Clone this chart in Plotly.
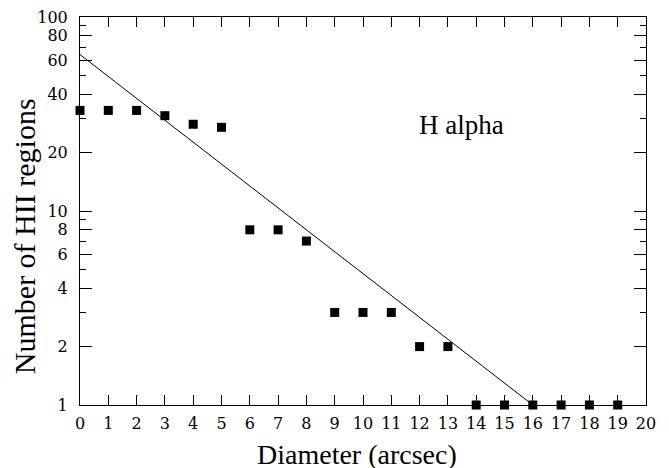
import plotly.graph_objects as go

# Counts of HII regions per diameter bin (H alpha)
diameter = list(range(20))
counts = [33, 33, 33, 31, 28, 27, 8, 8, 7, 3, 3, 3, 2, 2, 1, 1, 1, 1, 1, 1]

# Exponential fit, straight on the log axis
fit_x = [0, 16]
fit_y = [64, 1]

major_y = [1, 2, 4, 6, 8, 10, 20, 40, 60, 80, 100]
minor_y = [3, 5, 7, 9, 30, 50, 70, 90]
x_ticks = list(range(21))

serif = "Liberation Serif, Times New Roman, serif"
tick_font = dict(family="DejaVu Serif", size=16, color="black")

fig = go.Figure()
fig.add_trace(go.Scatter(x=fit_x, y=fit_y, mode="lines",
                         line=dict(color="black", width=1), showlegend=False))
fig.add_trace(go.Scatter(x=diameter, y=counts, mode="markers",
                         marker=dict(symbol="square", size=9, color="black"),
                         showlegend=False, cliponaxis=False))

fig.add_annotation(x=11.9, y=1.443, xref="x", yref="y", text="H alpha",
                   showarrow=False, xanchor="left", yanchor="middle",
                   font=dict(family=serif, size=27, color="black"))

# Axis titles placed as paper-anchored labels
fig.add_annotation(x=0.489, y=-0.128, xref="paper", yref="paper",
                   text="Diameter (arcsec)", showarrow=False,
                   xanchor="center", yanchor="middle",
                   font=dict(family=serif, size=28, color="black"))
fig.add_annotation(x=-0.099, y=0.435, xref="paper", yref="paper",
                   text="Number of HII regions", showarrow=False, textangle=-90,
                   xanchor="center", yanchor="middle",
                   font=dict(family=serif, size=30, color="black"))

fig.update_layout(
    width=669, height=468,
    margin=dict(l=80, r=23, t=17, b=63),
    paper_bgcolor="white", plot_bgcolor="white",
    font=dict(family=serif, color="black"),
    xaxis=dict(range=[0, 20], tickvals=x_ticks, ticks="inside", ticklen=10,
               tickwidth=1, tickcolor="black", showline=True, linecolor="black",
               linewidth=1, mirror="ticks", showgrid=False, zeroline=False,
               automargin=False, tickfont=tick_font, ticklabelstandoff=4),
    yaxis=dict(type="log", range=[0, 2], tickvals=major_y,
               ticktext=[str(v) for v in major_y], ticks="inside", ticklen=12,
               tickwidth=1, tickcolor="black", showline=True, linecolor="black",
               linewidth=1, mirror="ticks", showgrid=False, zeroline=False,
               automargin=False, tickfont=tick_font, ticklabelstandoff=8,
               minor=dict(tickvals=minor_y, ticks="inside", ticklen=6,
                          tickcolor="black", showgrid=False)),
)

fig.write_html("out.html")
